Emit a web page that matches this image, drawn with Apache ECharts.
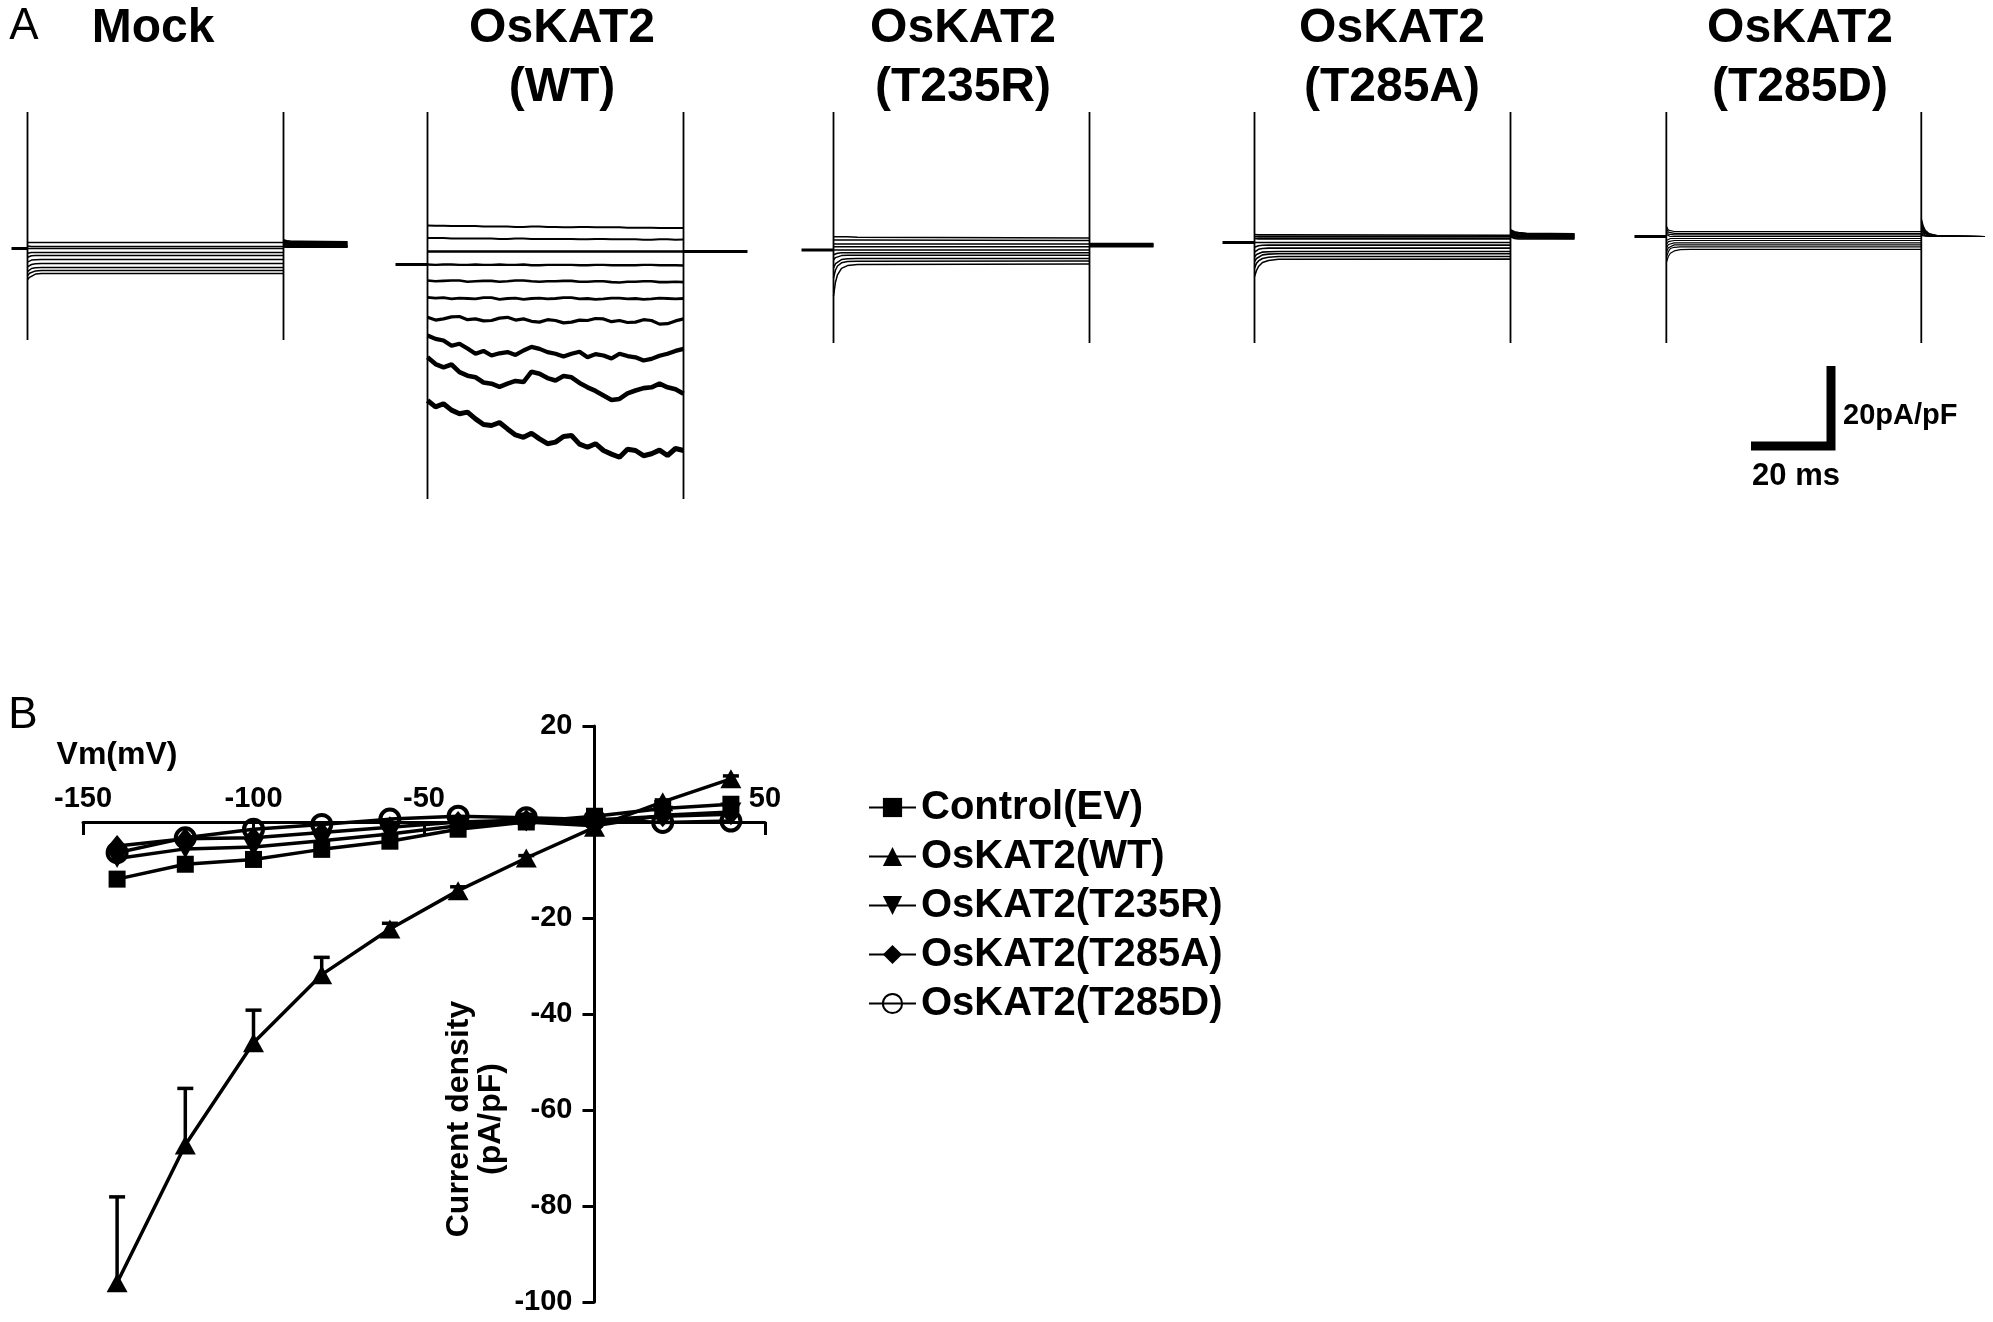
<!DOCTYPE html>
<html>
<head>
<meta charset="utf-8">
<title>OsKAT2 currents</title>
<script src="https://cdn.jsdelivr.net/npm/echarts@6/dist/echarts.min.js"></script>
<style>
  html, body { margin: 0; padding: 0; background: #fff; }
  #chart { width: 1993px; height: 1322px; }
</style>
</head>
<body>
<div id="chart"></div>
<script>
// ---------- panel B: I-V curve (pA/pF vs mV) ----------
var voltages = [-140, -120, -100, -80, -60, -40, -20, 0, 20, 40];
var controlEV = [-11.9, -8.8, -7.8, -5.7, -4.0, -1.5, 0, 1.2, 2.8, 3.7];
var wtMean = [-96, -67.3, -46, -31.8, -22.3, -14.3, -7.5, -1.1, 4.2, 9.0];
var wtSem = [17.9, 11.8, 6.8, 3.6, 1.2, 0.8, 0.5, 0.3, 0.4, 0.6];
var t235r = [-7.6, -5.6, -5.2, -3.9, -2.5, -0.8, 0, -0.8, 1.4, 2.1];
var t285a = [-5.0, -3.5, -3.3, -2.2, -1.1, 0, 0.4, 0.4, 1.2, 1.6];
var t285d = [-6.4, -3.3, -1.5, -0.5, 0.6, 1.2, 0.9, 0.5, -0.1, 0.2];
var seriesNames = ['Control(EV)', 'OsKAT2(WT)', 'OsKAT2(T235R)', 'OsKAT2(T285A)', 'OsKAT2(T285D)'];

// ---------- panel A: current traces (ms, pA/pF rel. to holding) ----------
var panelTitles = ['Mock', 'OsKAT2\n(WT)', 'OsKAT2\n(T235R)', 'OsKAT2\n(T285A)', 'OsKAT2\n(T285D)'];
var PULSE_MS = 64;
var mockHoldT = [-4, 0];
var holdT = [-8, 0];
var fastT = [0, 0.5, 1, 2, 3.5, 6, 64];
var tailT = [64, 64.5, 65, 66, 68, 80];
var wtT = [0, 2, 4, 6, 8, 10, 12, 14, 16, 18, 20, 22, 24, 26, 28, 30, 32,
           34, 36, 38, 40, 42, 44, 46, 48, 50, 52, 54, 56, 58, 60, 62, 64];

// traces listed from +40 mV down to -140 mV
var mockPulse = [
  [1.5, 1.5, 1.5, 1.5, 1.5, 1.5, 1.5],
  [0.6, 0.5, 0.5, 0.5, 0.5, 0.5, 0.5],
  [0, 0, 0, 0, 0, 0, 0],
  [-1.2, -1.0, -1.0, -1.0, -1.0, -1.0, -1.0],
  [-2.2, -2.0, -1.8, -1.75, -1.75, -1.75, -1.75],
  [-3.4, -3.1, -2.9, -2.8, -2.75, -2.75, -2.75],
  [-4.6, -4.2, -4.0, -3.8, -3.75, -3.75, -3.75],
  [-5.8, -5.3, -5.0, -4.8, -4.75, -4.75, -4.75],
  [-6.8, -6.2, -5.9, -5.6, -5.5, -5.5, -5.5],
  [-7.8, -7.2, -6.8, -6.4, -6.25, -6.25, -6.25]
];
var mockTail = [
  [2.2, 2.0, 1.9, 1.8, 1.8, 1.7],
  [2.0, 1.8, 1.7, 1.6, 1.6, 1.5],
  [1.8, 1.6, 1.5, 1.4, 1.4, 1.3],
  [1.6, 1.4, 1.3, 1.2, 1.2, 1.1],
  [1.4, 1.2, 1.1, 1.0, 1.0, 0.9],
  [1.2, 1.0, 0.9, 0.8, 0.8, 0.7],
  [1.0, 0.8, 0.7, 0.6, 0.6, 0.6],
  [0.8, 0.6, 0.5, 0.5, 0.5, 0.5],
  [0.6, 0.5, 0.4, 0.4, 0.4, 0.4],
  [0.4, 0.3, 0.3, 0.3, 0.3, 0.3]
];
var mockCap = [-22.9, 34.1];

var wtPulse = [
  [9.75, 9.7, 9.7, 9.6, 9.6, 9.6, 9.6, 9.5, 9.5, 9.5, 9.5, 9.4, 9.4, 9.5, 9.5, 9.4, 9.4,
   9.3, 9.3, 9.4, 9.4, 9.3, 9.3, 9.3, 9.3, 9.2, 9.2, 9.2, 9.2, 9.1, 9.1, 9.1, 9.1],
  [6.6, 6.6, 6.6, 6.5, 6.5, 6.5, 6.5, 6.5, 6.5, 6.4, 6.4, 6.5, 6.5, 6.4, 6.4, 6.4, 6.4,
   6.4, 6.4, 6.3, 6.3, 6.4, 6.4, 6.3, 6.3, 6.3, 6.3, 6.2, 6.2, 6.3, 6.3, 6.2, 6.25],
  [3.25, 3.25, 3.25, 3.25, 3.25, 3.25, 3.25, 3.25, 3.25, 3.25, 3.25, 3.25, 3.25, 3.25, 3.25, 3.25, 3.25,
   3.25, 3.25, 3.25, 3.25, 3.25, 3.25, 3.25, 3.25, 3.25, 3.25, 3.25, 3.25, 3.25, 3.25, 3.25, 3.25],
  [0, -0.1, 0, 0, -0.1, -0.1, 0, -0.1, -0.1, 0, -0.1, -0.1, 0, -0.2, -0.2, -0.1, -0.1,
   -0.1, -0.1, -0.2, -0.2, -0.1, -0.1, -0.2, -0.2, -0.2, -0.2, -0.1, -0.1, -0.2, -0.2, -0.2, -0.25],
  [-4.0, -4.2, -4.1, -4.0, -4.0, -4.3, -4.2, -4.1, -4.1, -4.3, -4.2, -4.0, -4.0, -4.2, -4.3, -4.2, -4.2,
   -4.1, -4.1, -4.3, -4.3, -4.2, -4.2, -4.4, -4.5, -4.3, -4.3, -4.2, -4.2, -4.4, -4.4, -4.3, -4.4],
  [-8.2, -8.4, -8.3, -8.6, -8.4, -8.5, -8.6, -8.3, -8.3, -8.7, -8.5, -8.4, -8.7, -8.5, -8.4, -8.6, -8.5,
   -8.3, -8.3, -8.6, -8.5, -8.7, -8.6, -8.4, -8.4, -8.6, -8.5, -8.7, -8.6, -8.4, -8.5, -8.6, -8.5],
  [-13.2, -13.9, -13.6, -13.1, -13.0, -13.8, -13.6, -14.1, -14.0, -13.4, -13.2, -13.9, -13.6, -14.2, -14.4, -13.8, -14.0,
   -14.6, -14.4, -13.9, -14.0, -13.5, -13.6, -14.3, -14.0, -14.5, -14.4, -13.8, -14.0, -14.9, -14.8, -14.1, -13.6],
  [-17.75, -18.6, -19.0, -20.3, -19.8, -21.0, -22.3, -21.6, -22.75, -22.2, -21.9, -22.6, -21.5, -20.6, -21.1, -21.9, -22.3,
   -23.0, -22.3, -21.8, -23.2, -22.4, -22.75, -23.5, -22.3, -22.9, -23.2, -24.0, -23.6, -22.8, -22.3, -21.6, -21.1],
  [-23.2, -24.9, -25.7, -25.0, -26.9, -27.8, -28.2, -29.5, -29.8, -30.6, -29.8, -29.1, -29.4, -26.8, -27.3, -28.4, -29.0,
   -27.9, -28.2, -29.6, -30.7, -31.6, -32.75, -33.9, -33.6, -32.2, -31.5, -30.9, -30.7, -29.8, -30.7, -31.2, -32.3],
  [-34.0, -35.6, -34.8, -36.4, -37.3, -36.9, -38.6, -40.0, -40.25, -39.5, -41.1, -42.6, -43.2, -42.2, -43.6, -44.8, -44.4,
   -43.0, -42.75, -44.9, -45.7, -44.8, -46.5, -47.4, -48.2, -46.2, -46.5, -47.8, -47.3, -46.4, -47.75, -46.0, -46.5]
];
var wtTail = [[3.25, 3.25, 3.25, 3.25, 3.25, 3.25]];
var wtCap = [-58.6, 38.1];

var t235rPulse = [
  [3.3, 3.3, 3.3, 3.3, 3.3, 3.2, 3.0],
  [2.5, 2.5, 2.5, 2.5, 2.5, 2.5, 2.4],
  [1.5, 1.5, 1.5, 1.5, 1.5, 1.5, 1.5],
  [0.8, 0.8, 0.8, 0.8, 0.8, 0.8, 0.8],
  [0, 0, 0, 0, 0, 0, 0],
  [-1.2, -0.9, -0.8, -0.7, -0.7, -0.7, -0.7],
  [-2.5, -1.9, -1.6, -1.4, -1.3, -1.3, -1.3],
  [-4.5, -3.4, -2.9, -2.4, -2.2, -2.1, -2.1],
  [-7.0, -5.0, -4.0, -3.2, -2.9, -2.8, -2.75],
  [-11.5, -8.0, -6.2, -4.6, -3.9, -3.6, -3.5]
];
var t235rTail = [
  [1.6, 1.6, 1.6, 1.6, 1.6, 1.6],
  [1.4, 1.4, 1.4, 1.4, 1.4, 1.4],
  [1.2, 1.2, 1.2, 1.2, 1.2, 1.2],
  [1.0, 1.0, 1.0, 1.0, 1.0, 1.0],
  [0.8, 0.8, 0.8, 0.8, 0.8, 0.8]
];
var t235rCap = [-23.25, 34.5];

var t285aPulse = [
  [2.0, 1.9, 1.9, 1.9, 1.9, 1.9, 1.8],
  [1.5, 1.4, 1.4, 1.4, 1.4, 1.4, 1.4],
  [1.0, 0.9, 0.9, 0.9, 0.9, 0.9, 0.9],
  [0, 0, 0, 0, 0, 0, 0],
  [-1.2, -0.9, -0.8, -0.7, -0.65, -0.65, -0.65],
  [-2.4, -1.9, -1.7, -1.5, -1.4, -1.4, -1.4],
  [-3.6, -3.0, -2.7, -2.4, -2.3, -2.25, -2.25],
  [-4.8, -4.0, -3.5, -3.1, -2.9, -2.8, -2.8],
  [-6.4, -5.2, -4.6, -4.0, -3.7, -3.5, -3.5],
  [-8.5, -7.0, -6.0, -5.0, -4.5, -4.2, -4.15]
];
var t285aTail = [
  [3.2, 2.9, 2.7, 2.5, 2.3, 2.2],
  [3.0, 2.7, 2.5, 2.3, 2.2, 2.1],
  [2.8, 2.5, 2.3, 2.1, 2.0, 1.9],
  [2.6, 2.3, 2.1, 1.9, 1.8, 1.8],
  [2.4, 2.1, 1.9, 1.8, 1.7, 1.6],
  [2.2, 1.9, 1.7, 1.6, 1.5, 1.5],
  [2.0, 1.7, 1.6, 1.5, 1.4, 1.3],
  [1.8, 1.5, 1.4, 1.3, 1.2, 1.2],
  [1.6, 1.3, 1.2, 1.1, 1.1, 1.0],
  [1.4, 1.1, 1.0, 0.9, 0.9, 0.9]
];
var t285aCap = [-25.1, 32.6];

var t285dPulse = [
  [2.6, 1.6, 1.3, 1.25, 1.25, 1.25, 1.25],
  [2.0, 1.1, 0.9, 0.8, 0.8, 0.8, 0.8],
  [1.2, 0.6, 0.4, 0.4, 0.4, 0.4, 0.4],
  [0.5, 0.1, 0, 0, 0, 0, 0],
  [-1.0, -0.6, -0.5, -0.5, -0.5, -0.5, -0.5],
  [-2.0, -1.3, -1.05, -1.0, -1.0, -1.0, -1.0],
  [-3.0, -2.0, -1.7, -1.6, -1.6, -1.6, -1.6],
  [-4.0, -2.8, -2.3, -2.1, -2.1, -2.1, -2.1],
  [-5.2, -3.8, -3.0, -2.7, -2.6, -2.6, -2.6],
  [-6.5, -5.0, -4.2, -3.6, -3.3, -3.2, -3.2]
];
var t285dTail = [
  [4.5, 2.6, 1.6, 0.7, 0.2, 0],
  [4.0, 2.3, 1.4, 0.6, 0.2, 0],
  [3.5, 2.0, 1.2, 0.5, 0.15, 0],
  [3.0, 1.7, 1.0, 0.45, 0.1, 0],
  [2.5, 1.4, 0.8, 0.4, 0.1, 0],
  [2.0, 1.1, 0.7, 0.3, 0.1, 0],
  [1.5, 0.9, 0.5, 0.25, 0.05, 0],
  [1.0, 0.6, 0.35, 0.2, 0.05, 0],
  [0.6, 0.35, 0.2, 0.1, 0, 0],
  [0.3, 0.15, 0.1, 0.05, 0, 0]
];
var t285dCap = [-26.6, 31.1];

// scale bar: 20 ms x 20 pA/pF
var scaleBarMs = 20;
var scaleBarPA = 20;

// ---------- layout ----------
var FONT = "'Liberation Sans', Arial, Helvetica, sans-serif";
var PX = 4;                       // px per ms and per pA/pF in panel A
var X_MAX = 82, Y_MIN = -62, Y_MAX = 40;

var panels = [
  { x0: 27.5, y0: 248.5, cx: 153, xMin: -6, holdT: mockHoldT, pulseT: fastT, pulse: mockPulse, tail: mockTail, cap: mockCap, w: 1.5, tw: 1.6 },
  { x0: 427.5, y0: 264.5, cx: 562, xMin: -10, holdT: holdT, pulseT: wtT, pulse: wtPulse, tail: wtTail, cap: wtCap,
    widths: [2, 2, 2.4, 2.4, 2.6, 2.8, 3.2, 4.2, 4.6, 5], tw: 3 },
  { x0: 833.5, y0: 250, cx: 963, xMin: -10, holdT: holdT, pulseT: fastT, pulse: t235rPulse, tail: t235rTail, cap: t235rCap, w: 1.5, tw: 1.6 },
  { x0: 1254.5, y0: 242.5, cx: 1392, xMin: -10, holdT: holdT, pulseT: fastT, pulse: t285aPulse, tail: t285aTail, cap: t285aCap, w: 1.6, tw: 1.5 },
  { x0: 1666.5, y0: 236.5, cx: 1800, xMin: -10, holdT: holdT, pulseT: fastT, pulse: t285dPulse, tail: t285dTail, cap: t285dCap, w: 1.2, tw: 1.2 }
];

function pairs(xs, ys) {
  return xs.map(function (x, i) { return [x, ys[i]]; });
}

var grids = [], xAxes = [], yAxes = [], series = [], graphics = [];

panels.forEach(function (p, i) {
  grids.push({ left: p.x0 + p.xMin * PX, top: p.y0 - Y_MAX * PX, width: (X_MAX - p.xMin) * PX, height: (Y_MAX - Y_MIN) * PX });
  xAxes.push({ gridIndex: i, type: 'value', min: p.xMin, max: X_MAX, show: false });
  yAxes.push({ gridIndex: i, type: 'value', min: Y_MIN, max: Y_MAX, show: false });
  var base = { type: 'line', xAxisIndex: i, yAxisIndex: i, symbol: 'none', silent: true, animation: false };
  series.push(Object.assign({}, base, { data: pairs(p.holdT, [0, 0]), lineStyle: { color: '#000', width: 3 } }));
  p.pulse.forEach(function (vals, k) {
    series.push(Object.assign({}, base, { data: pairs(p.pulseT, vals), lineStyle: { color: '#000', width: p.widths ? p.widths[k] : p.w } }));
  });
  p.tail.forEach(function (vals) {
    series.push(Object.assign({}, base, { data: pairs(tailT, vals), lineStyle: { color: '#000', width: p.tw } }));
  });
  [0, PULSE_MS].forEach(function (t) {
    series.push(Object.assign({}, base, { data: [[t, p.cap[0]], [t, p.cap[1]]], lineStyle: { color: '#000', width: 1.8 } }));
  });
  graphics.push({
    type: 'text', x: p.cx, y: -1,
    style: { text: panelTitles[i], font: 'bold 48px ' + FONT, fill: '#000', align: 'center', verticalAlign: 'top', lineHeight: 59 }
  });
});

// scale bar grid, same scale as the traces
var sbIndex = panels.length;
grids.push({ left: 1831 - 30 * PX, top: 446 - 30 * PX, width: 40 * PX, height: 40 * PX });
xAxes.push({ gridIndex: sbIndex, type: 'value', min: -30, max: 10, show: false });
yAxes.push({ gridIndex: sbIndex, type: 'value', min: -10, max: 30, show: false });
series.push({
  type: 'line', xAxisIndex: sbIndex, yAxisIndex: sbIndex, symbol: 'none', silent: true, animation: false,
  data: [[-scaleBarMs, 0], [0, 0], [0, scaleBarPA]],
  lineStyle: { color: '#000', width: 9, join: 'miter', cap: 'butt' }
});

// I-V grid; axes cross at the origin (moved there with offset)
var iv = sbIndex + 1;
var ivBox = { left: 83, right: 765, top: 726, bottom: 1302 };
var IV_X = [-150, 50], IV_Y = [-100, 20];
var xZeroOffset = -(ivBox.bottom - ivBox.top) * IV_Y[1] / (IV_Y[1] - IV_Y[0]);
var yZeroOffset = -(ivBox.right - ivBox.left) * (0 - IV_X[0]) / (IV_X[1] - IV_X[0]);
grids.push({ left: ivBox.left, top: ivBox.top, width: ivBox.right - ivBox.left, height: ivBox.bottom - ivBox.top });
var hideZero = function (v) { return v === 0 ? '' : String(v); };
xAxes.push({
  gridIndex: iv, type: 'value', min: IV_X[0], max: IV_X[1], interval: 50, position: 'top', offset: xZeroOffset,
  axisLine: { onZero: false, lineStyle: { color: '#000', width: 3 } },
  axisTick: { inside: true, length: 13, lineStyle: { color: '#000', width: 3 } },
  axisLabel: { margin: 9, color: '#000', fontSize: 29, fontWeight: 'bold', fontFamily: FONT, formatter: hideZero },
  splitLine: { show: false }
});
yAxes.push({
  gridIndex: iv, type: 'value', min: IV_Y[0], max: IV_Y[1], interval: 20, position: 'left', offset: yZeroOffset,
  axisLine: { onZero: false, lineStyle: { color: '#000', width: 3 } },
  axisTick: { length: 12, lineStyle: { color: '#000', width: 3 } },
  axisLabel: { margin: 22, color: '#000', fontSize: 29, fontWeight: 'bold', fontFamily: FONT, formatter: hideZero },
  splitLine: { show: false }
});

var ivStyles = [
  { symbol: 'rect', symbolSize: 17 },
  { symbol: 'triangle', symbolSize: [21, 19] },
  { symbol: 'triangle', symbolSize: [21, 19], symbolRotate: 180 },
  { symbol: 'diamond', symbolSize: [18, 22] },
  { symbol: 'circle', symbolSize: 19, itemStyle: { color: 'rgba(255,255,255,0)', borderColor: '#000', borderWidth: 4 } }
];
var ivData = [controlEV, wtMean, t235r, t285a, t285d];

// WT error bars (mean + SEM, upward only)
series.push({
  type: 'custom', xAxisIndex: iv, yAxisIndex: iv, silent: true, animation: false, z: 1,
  data: voltages.map(function (v, i) { return [v, wtMean[i], wtMean[i] + wtSem[i]]; }),
  renderItem: function (params, api) {
    var p0 = api.coord([api.value(0), api.value(1)]);
    var p1 = api.coord([api.value(0), api.value(2)]);
    var st = { stroke: '#000', lineWidth: 3.5 };
    return {
      type: 'group',
      children: [
        { type: 'line', shape: { x1: p0[0], y1: p0[1], x2: p1[0], y2: p1[1] }, style: st },
        { type: 'line', shape: { x1: p1[0] - 8, y1: p1[1], x2: p1[0] + 8, y2: p1[1] }, style: st }
      ]
    };
  }
});

ivData.forEach(function (vals, k) {
  series.push(Object.assign({
    type: 'line', name: seriesNames[k], xAxisIndex: iv, yAxisIndex: iv, animation: false,
    data: pairs(voltages, vals), showAllSymbol: true,
    lineStyle: { color: '#000', width: 3.5 },
    itemStyle: { color: '#000' }
  }, ivStyles[k]));
});

// labels
graphics.push(
  { type: 'text', x: 24, y: 27, style: { text: 'A', font: '44px ' + FONT, fill: '#000', align: 'center', verticalAlign: 'middle' } },
  { type: 'text', x: 23, y: 716, style: { text: 'B', font: '44px ' + FONT, fill: '#000', align: 'center', verticalAlign: 'middle' } },
  { type: 'text', x: 1843, y: 416, style: { text: '20pA/pF', font: 'bold 29px ' + FONT, fill: '#000', align: 'left', verticalAlign: 'middle' } },
  { type: 'text', x: 1796, y: 476, style: { text: '20 ms', font: 'bold 31px ' + FONT, fill: '#000', align: 'center', verticalAlign: 'middle' } },
  { type: 'text', x: 117, y: 755, style: { text: 'Vm(mV)', font: 'bold 32px ' + FONT, fill: '#000', align: 'center', verticalAlign: 'middle' } },
  { type: 'text', x: 475, y: 1119, rotation: Math.PI / 2,
    style: { text: 'Current density\n(pA/pF)', font: 'bold 32px ' + FONT, fill: '#000', align: 'center', verticalAlign: 'middle', lineHeight: 32 } }
);

var myChart = echarts.init(document.getElementById('chart'));
myChart.setOption({
  animation: false,
  backgroundColor: '#fff',
  grid: grids,
  xAxis: xAxes,
  yAxis: yAxes,
  legend: {
    data: seriesNames, orient: 'vertical', left: 863, top: 780,
    itemWidth: 47, itemHeight: 24, itemGap: 4, selectedMode: false,
    textStyle: { fontSize: 40, fontWeight: 'bold', color: '#000', fontFamily: FONT, lineHeight: 45 }
  },
  graphic: graphics,
  series: series
});
window.addEventListener('resize', function () { myChart.resize(); });
</script>
</body>
</html>
